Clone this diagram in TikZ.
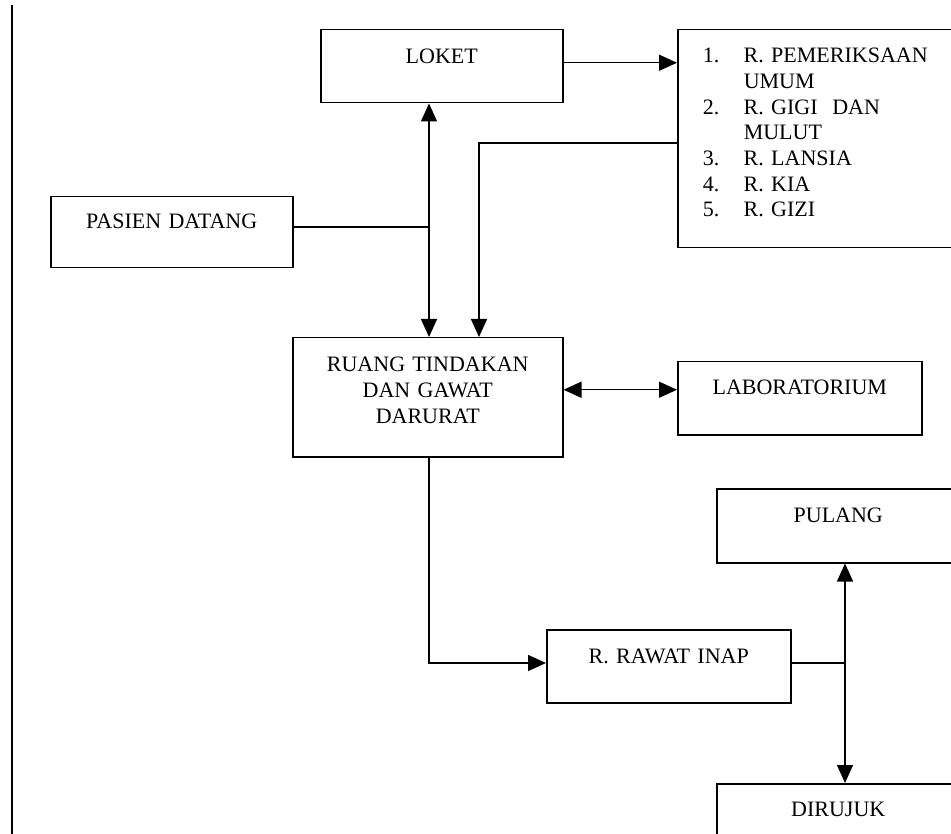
\documentclass[tikz,border=0pt]{standalone}
\usepackage{fontspec}
\setmainfont{Liberation Serif}
\usetikzlibrary{arrows.meta, positioning, calc}

\newcommand{\nomor}[1]{\hspace*{25pt}\makebox[41pt][l]{#1}}
\newcommand{\lanjut}{\hspace*{66pt}}

\begin{document}
\begin{tikzpicture}[x=1pt, y=-1pt,
    kotak/.style={rectangle, draw, line width=1.5pt, inner sep=0pt,
                  anchor=north west, align=center,
                  font=\fontsize{22}{25.7}\selectfont},
    garis/.style={line width=1.5pt},
    panah/.style={garis, -{Triangle[length=18pt, width=16pt]}},
    panahdua/.style={garis, {Triangle[length=18pt, width=16pt]}-{Triangle[length=18pt, width=16pt]}}]

    \useasboundingbox (0,0) rectangle (951,834);

    % garis tepi kiri
    \draw[garis] (12,5) -- (12,840);

    \node[kotak, text width=242pt, text height=34pt, text depth=39pt] (loket) at (320,29) {LOKET};
    \node[kotak, text width=283pt, text height=33pt, text depth=185pt, align=left] (poli) at (677,29)
        {\nomor{1.}R. PEMERIKSAAN\\ \lanjut UMUM\\ \nomor{2.}R. GIGI\ \ DAN\\ \lanjut MULUT\\
         \nomor{3.}R. LANSIA\\ \nomor{4.}R. KIA\\ \nomor{5.}R. GIZI};
    \node[kotak, text width=242pt, text height=32pt, text depth=39pt] (pasien) at (50,196) {PASIEN DATANG};
    \node[kotak, text width=270pt, text height=34pt, text depth=85pt] (ruang) at (292,337)
        {RUANG TINDAKAN\\DAN GAWAT\\DARURAT};
    \node[kotak, text width=244pt, text height=33pt, text depth=40pt] (lab) at (677,361) {LABORATORIUM};
    \node[kotak, text width=243pt, text height=34pt, text depth=40pt] (pulang) at (716,488) {PULANG};
    \node[kotak, text width=244pt, text height=34pt, text depth=39pt] (rawat) at (546,629) {R. RAWAT INAP};
    \node[kotak, text width=243pt, text height=33pt, text depth=47pt] (rujuk) at (716,783) {DIRUJUK};

    \coordinate (simpang) at (429,227);
    \coordinate (belok) at (479,143);
    \coordinate (tekuk) at (429,663);
    \coordinate (cabang) at (845,663);
    \coordinate (loket-out) at ([yshift=3.5pt]loket.east);
    \coordinate (lab-in) at ([yshift=8.5pt]lab.west);

    \draw[panah] (loket-out) -- (poli.west |- loket-out);
    \draw[panahdua] (loket.south -| simpang) -- (ruang.north -| simpang);
    \draw[garis] (pasien.east |- simpang) -- (simpang);
    \draw[panah] (poli.west |- belok) -- (belok) -- (ruang.north -| belok);
    \draw[panahdua] (ruang.east |- lab-in) -- (lab-in);
    \draw[panah] (ruang.south -| tekuk) -- (tekuk) -- (rawat.west |- tekuk);
    \draw[garis] (rawat.east |- cabang) -- (cabang);
    \draw[panahdua] (pulang.south -| cabang) -- (rujuk.north -| cabang);
\end{tikzpicture}
\end{document}
